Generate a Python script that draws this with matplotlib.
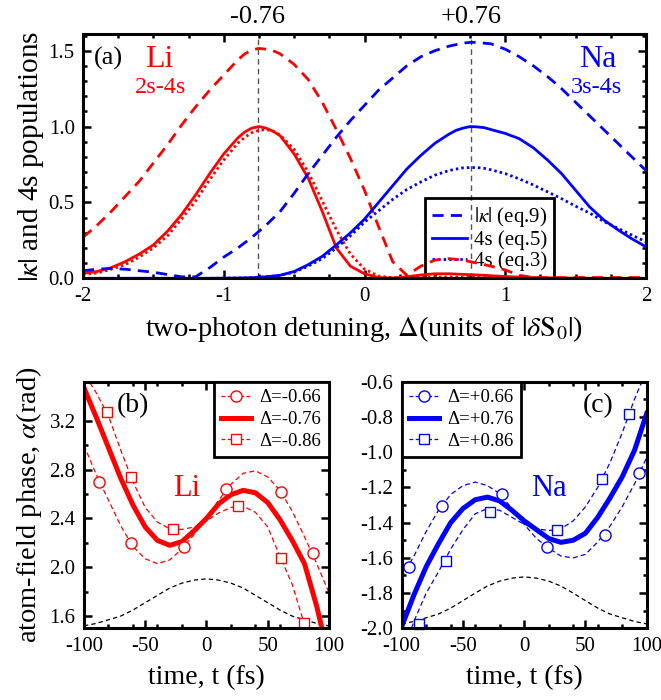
import numpy as np
import matplotlib
matplotlib.use("Agg")
from matplotlib import pyplot as plt
from matplotlib.lines import Line2D
from matplotlib.ticker import MultipleLocator, FixedLocator, FormatStrFormatter

plt.rcParams['font.family'] = ['Liberation Serif', 'DejaVu Serif']
plt.rcParams['mathtext.fontset'] = 'stix'
plt.rcParams['axes.unicode_minus'] = False

RED = '#ff0000'
BLUE = '#0000ff'

# ---- panel (a): detuning scan ----
delta = [-2.0, -1.9, -1.8, -1.7, -1.6, -1.5, -1.4, -1.3, -1.2, -1.1, -1.0,
         -0.9, -0.85, -0.8, -0.75, -0.7, -0.65, -0.6, -0.5, -0.4, -0.3, -0.2, -0.1, 0.0,
         0.1, 0.2, 0.3, 0.4, 0.5, 0.6, 0.65, 0.7, 0.75, 0.8, 0.85, 0.9, 1.0,
         1.1, 1.2, 1.3, 1.4, 1.5, 1.6, 1.7, 1.8, 1.9, 2.0]
li_kappa = [0.27, 0.35, 0.44, 0.54, 0.64, 0.76, 0.88, 1.01, 1.13, 1.24, 1.34,
            1.44, 1.48, 1.505, 1.515, 1.51, 1.50, 1.48, 1.41, 1.31, 1.16, 0.98, 0.79, 0.58,
            0.34, 0.11, 0.02, 0.08, 0.12, 0.13, 0.125, 0.12, 0.11, 0.10, 0.09, 0.08, 0.055,
            0.02, 0.005, 0.004, 0.004, 0.005, 0.005, 0.005, 0.005, 0.005, 0.005]
li_pop_eq5 = [0.033, 0.045, 0.07, 0.11, 0.16, 0.22, 0.31, 0.42, 0.55, 0.69, 0.82,
              0.925, 0.965, 0.99, 1.0, 0.99, 0.97, 0.94, 0.82, 0.66, 0.44, 0.20, 0.08, 0.03,
              0.005, 0.002, 0.01, 0.022, 0.03, 0.03, 0.028, 0.026, 0.024, 0.022, 0.02, 0.017, 0.012,
              0.008, 0.005, 0.003, 0.002, 0.001, 0.0, 0.0, 0.0, 0.0, 0.0]
li_pop_eq3 = [0.025, 0.035, 0.06, 0.09, 0.14, 0.20, 0.28, 0.39, 0.51, 0.65, 0.78,
              0.89, 0.93, 0.96, 0.975, 0.98, 0.97, 0.945, 0.85, 0.70, 0.51, 0.32, 0.16, 0.06,
              0.015, 0.003, 0.004, 0.006, 0.008, 0.008, 0.0075, 0.007, 0.0065, 0.006, 0.0055, 0.005, 0.004,
              0.003, 0.002, 0.001, 0.0, 0.0, 0.0, 0.0, 0.0, 0.0, 0.0]
na_kappa = [0.05, 0.06, 0.065, 0.06, 0.05, 0.04, 0.025, 0.01, 0.01, 0.07, 0.14,
            0.20, 0.235, 0.27, 0.31, 0.35, 0.395, 0.44, 0.56, 0.69, 0.81, 0.93, 1.04, 1.14,
            1.24, 1.32, 1.40, 1.46, 1.50, 1.53, 1.54, 1.55, 1.555, 1.555, 1.55, 1.545, 1.51,
            1.46, 1.40, 1.33, 1.25, 1.16, 1.07, 0.98, 0.89, 0.80, 0.71]
na_pop_eq5 = [0.0, 0.0, 0.0, 0.0, 0.0, 0.0, 0.0, 0.0, 0.0, 0.0, 0.001,
              0.002, 0.003, 0.004, 0.007, 0.01, 0.015, 0.02, 0.045, 0.09, 0.145, 0.22, 0.30, 0.39,
              0.50, 0.61, 0.72, 0.81, 0.89, 0.95, 0.975, 0.99, 1.0, 0.998, 0.993, 0.98, 0.955,
              0.92, 0.86, 0.78, 0.69, 0.58, 0.47, 0.385, 0.32, 0.26, 0.208]
na_pop_eq3 = [0.0, 0.0, 0.0, 0.0, 0.0, 0.0, 0.0, 0.0, 0.0, 0.0, 0.001,
              0.002, 0.003, 0.004, 0.006, 0.01, 0.014, 0.02, 0.04, 0.08, 0.13, 0.20, 0.28, 0.37,
              0.445, 0.52, 0.585, 0.635, 0.68, 0.71, 0.72, 0.728, 0.73, 0.73, 0.725, 0.715, 0.69,
              0.655, 0.615, 0.57, 0.525, 0.475, 0.43, 0.375, 0.33, 0.285, 0.24]
optimal_delta = [-0.76, 0.76]
optimal_labels = ['-0.76', '+0.76']

# ---- panel (b): Li phase vs time ----
t_full = [-100, -90, -80, -70, -60, -50, -40, -30, -20, -10, 0,
          10, 20, 30, 40, 50, 60, 70, 80, 90, 100]
li_t_mid = [-100, -90, -80, -70, -60, -50, -40, -30, -20, -10, 0,
            10, 20, 30, 40, 50, 60, 70, 80, 90, 94]
li_phase_mid = [3.47, 3.23, 2.98, 2.73, 2.51, 2.33, 2.22, 2.18, 2.21, 2.30, 2.40,
                2.52, 2.595, 2.63, 2.61, 2.53, 2.39, 2.22, 2.03, 1.68, 1.51]
li_phase_lo = [3.0, 2.76, 2.55, 2.34, 2.17, 2.07, 2.03, 2.06, 2.15, 2.27, 2.40,
               2.55, 2.68, 2.77, 2.79, 2.74, 2.63, 2.46, 2.25, 2.03, 1.79]
li_t_hi = [-95, -90, -80, -70, -60, -50, -40, -30, -20, -10, 0,
           10, 20, 30, 40, 50, 60, 70, 80]
li_phase_hi = [3.51, 3.43, 3.24, 2.96, 2.70, 2.49, 2.37, 2.315, 2.31, 2.33, 2.38,
               2.445, 2.49, 2.50, 2.45, 2.33, 2.09, 1.86, 1.53]
li_pulse = [1.52, 1.54, 1.57, 1.60, 1.65, 1.71, 1.77, 1.83, 1.87, 1.895, 1.905,
            1.895, 1.87, 1.83, 1.77, 1.71, 1.65, 1.60, 1.57, 1.54, 1.52]
li_circ_t = [-87.8, -61.9, -18.4, 15.6, 60.5, 86.7]
li_circ_v = [2.70, 2.20, 2.17, 2.64, 2.62, 2.115]
li_sq_t = [-81, -61.9, -27, 25.7, 60.5, 79.6]
li_sq_v = [3.27, 2.74, 2.31, 2.50, 2.075, 1.54]

# ---- panel (c): Na phase vs time ----
na_phase_mid = [-1.99, -1.81, -1.65, -1.52, -1.40, -1.32, -1.27, -1.255, -1.277, -1.33, -1.39,
                -1.44, -1.49, -1.512, -1.50, -1.46, -1.37, -1.26, -1.14, -0.99, -0.78]
na_phase_lo = [-1.71, -1.59, -1.45, -1.33, -1.24, -1.19, -1.17, -1.19, -1.235, -1.32, -1.41,
               -1.49, -1.545, -1.59, -1.60, -1.58, -1.51, -1.42, -1.31, -1.18, -1.03]
na_t_hi = [-92, -90, -80, -70, -60, -50, -40, -30, -20, -10, 0,
           10, 20, 30, 40, 50, 60, 70, 80, 90, 96]
na_phase_hi = [-2.0, -1.96, -1.80, -1.68, -1.55, -1.44, -1.35, -1.32, -1.33, -1.37, -1.41,
               -1.435, -1.445, -1.435, -1.39, -1.31, -1.20, -1.06, -0.89, -0.70, -0.60]
na_pulse = [-1.975, -1.961, -1.94, -1.919, -1.885, -1.843, -1.80, -1.76, -1.732, -1.715, -1.708,
            -1.715, -1.732, -1.76, -1.80, -1.843, -1.885, -1.919, -1.94, -1.961, -1.975]
na_circ_t = [-93.7, -67.3, -18.4, 18.4, 66.0, 93.7]
na_circ_v = [-1.651, -1.305, -1.238, -1.537, -1.47, -1.12]
na_sq_t = [-86, -64.1, -27.9, 26.5, 63.8, 85.9]
na_sq_v = [-1.975, -1.615, -1.337, -1.442, -1.152, -0.785]


def style_axes(ax):
    for sp in ax.spines.values():
        sp.set_linewidth(2.2)
    ax.tick_params(which='both', direction='in', top=True, right=True, width=1.8, labelsize=15)
    ax.tick_params(which='major', length=6, pad=6)
    ax.tick_params(which='minor', length=3)


fig = plt.figure(figsize=(6.61, 7.0), dpi=100)

# panel (a)
ax = fig.add_axes([0.1256, 0.6024, 0.8517, 0.349])
lw = 2.0
ax.plot(delta, li_kappa, color=RED, lw=lw, ls=(0, (4, 2.6)))
ax.plot(delta, li_pop_eq5, color=RED, lw=lw)
ax.plot(delta, li_pop_eq3, color=RED, lw=lw, ls=(0, (0.9, 1.1)))
h1, = ax.plot(delta, na_kappa, color=BLUE, lw=lw, ls=(0, (4, 2.6)))
h2, = ax.plot(delta, na_pop_eq5, color=BLUE, lw=lw)
h3, = ax.plot(delta, na_pop_eq3, color=BLUE, lw=lw, ls=(0, (0.9, 1.1)))
for d, lab in zip(optimal_delta, optimal_labels):
    ax.axvline(d, color='#555555', lw=1.0, ls=(0, (4, 3)), zorder=0)
    ax.text(d, 1.068, lab, transform=ax.get_xaxis_transform(), ha='center', va='center', fontsize=19)
ax.set_xlim(-2, 2)
ax.set_ylim(0, 1.61)
ax.xaxis.set_major_locator(MultipleLocator(1))
ax.xaxis.set_minor_locator(MultipleLocator(0.25))
ax.yaxis.set_major_locator(MultipleLocator(0.5))
ax.yaxis.set_minor_locator(MultipleLocator(0.1))
ax.yaxis.set_major_formatter(FormatStrFormatter('%.1f'))
style_axes(ax)
ax.set_xlabel(r'two-photon detuning, $\Delta$(units of $|\delta \mathrm{S}_0|$)', fontsize=20.5, labelpad=6)
ax.set_ylabel(r'$|\kappa|$ and 4s populations', fontsize=21, labelpad=2)
ax.text(-1.82, 1.45, '(a)', fontsize=19, ha='center', va='center')
ax.text(-1.46, 1.44, 'Li', fontsize=23, color=RED, ha='center', va='center')
ax.text(-1.45, 1.26, '2s-4s', fontsize=17.5, color=RED, ha='center', va='center')
ax.text(1.66, 1.44, 'Na', fontsize=23, color=BLUE, ha='center', va='center')
ax.text(1.65, 1.26, '3s-4s', fontsize=17.5, color=BLUE, ha='center', va='center')
leg = ax.legend([h1, h2, h3], [r'$|\kappa|$ (eq.9)', '4s (eq.5)', '4s (eq.3)'],
                loc='lower left', bbox_to_anchor=(0.607, 0.0), borderaxespad=0,
                fontsize=15, handlelength=1.7, handletextpad=0.3, labelspacing=0.05,
                fancybox=False, framealpha=1, facecolor='none', edgecolor='black',
                borderpad=0.35)
leg.get_frame().set_linewidth(2.0)
leg.set_zorder(1)

# panels (b) and (c)
panels = [
    dict(pos=[0.127, 0.1024, 0.3707, 0.3523], color=RED, mid=(li_t_mid, li_phase_mid),
         lo=(t_full, li_phase_lo), hi=(li_t_hi, li_phase_hi), pulse=li_pulse,
         circ=(li_circ_t, li_circ_v), sq=(li_sq_t, li_sq_v), ylim=(1.5, 3.52),
         major=0.4, minor=0.2, labels=['Δ=-0.66', 'Δ=-0.76', 'Δ=-0.86'],
         leg_loc='upper right', tag='(b)', tag_xy=(0.2, 0.905), name='Li', name_xy=(0.42, 0.568)),
    dict(pos=[0.6077, 0.1024, 0.3707, 0.3523], color=BLUE, mid=(t_full, na_phase_mid),
         lo=(t_full, na_phase_lo), hi=(na_t_hi, na_phase_hi), pulse=na_pulse,
         circ=(na_circ_t, na_circ_v), sq=(na_sq_t, na_sq_v), ylim=(-2.0, -0.6),
         major=0.2, minor=0.1, labels=['Δ=+0.66', 'Δ=+0.76', 'Δ=+0.86'],
         leg_loc='upper left', tag='(c)', tag_xy=(0.80, 0.905), name='Na', name_xy=(0.60, 0.565)),
]
for i, p in enumerate(panels):
    ax = fig.add_axes(p['pos'])
    c = p['color']
    ax.plot(t_full, p['pulse'], color='black', lw=0.9, ls=(0, (3.5, 2.5)))
    ax.plot(*p['lo'], color=c, lw=0.9, ls=(0, (4, 2.5)))
    ax.plot(*p['hi'], color=c, lw=0.9, ls=(0, (4, 2.5)))
    ax.plot(*p['mid'], color=c, lw=3.6)
    ax.plot(*p['circ'], ls='none', marker='o', ms=8, mfc='white', mec=c, mew=1.0, clip_on=False)
    ax.plot(*p['sq'], ls='none', marker='s', ms=7.5, mfc='white', mec=c, mew=1.0, clip_on=False)
    ax.set_xlim(-100, 100)
    ax.set_ylim(*p['ylim'])
    ax.xaxis.set_major_locator(MultipleLocator(50))
    ax.xaxis.set_minor_locator(FixedLocator([-80, -60, -40, -20, 20, 40, 60, 80]))
    ax.yaxis.set_major_locator(MultipleLocator(p['major']))
    ax.yaxis.set_minor_locator(MultipleLocator(p['minor']))
    ax.yaxis.set_major_formatter(FormatStrFormatter('%.1f'))
    style_axes(ax)
    ax.set_xlabel('time, t (fs)', fontsize=20, labelpad=7)
    if i == 0:
        ax.set_ylabel(r'atom-field phase, $\alpha$(rad)', fontsize=20.5, labelpad=4)
    ax.text(*p['tag_xy'], p['tag'], transform=ax.transAxes, fontsize=20, ha='center', va='center')
    ax.text(*p['name_xy'], p['name'], transform=ax.transAxes, fontsize=22, color=c, ha='center', va='center')
    handles = [Line2D([], [], color=c, lw=0.9, ls=(0, (3, 2)), marker='o', ms=8, mfc='white', mec=c),
               Line2D([], [], color=c, lw=3.6),
               Line2D([], [], color=c, lw=0.9, ls=(0, (3, 2)), marker='s', ms=7.5, mfc='white', mec=c)]
    leg = ax.legend(handles, p['labels'], loc=p['leg_loc'], borderaxespad=0, fontsize=13.5,
                    handlelength=1.6, handletextpad=0.45, labelspacing=0.25, fancybox=False,
                    framealpha=1, edgecolor='black', borderpad=0.4)
    leg.get_frame().set_linewidth(2.0)

fig.savefig('out.png', dpi=100)
